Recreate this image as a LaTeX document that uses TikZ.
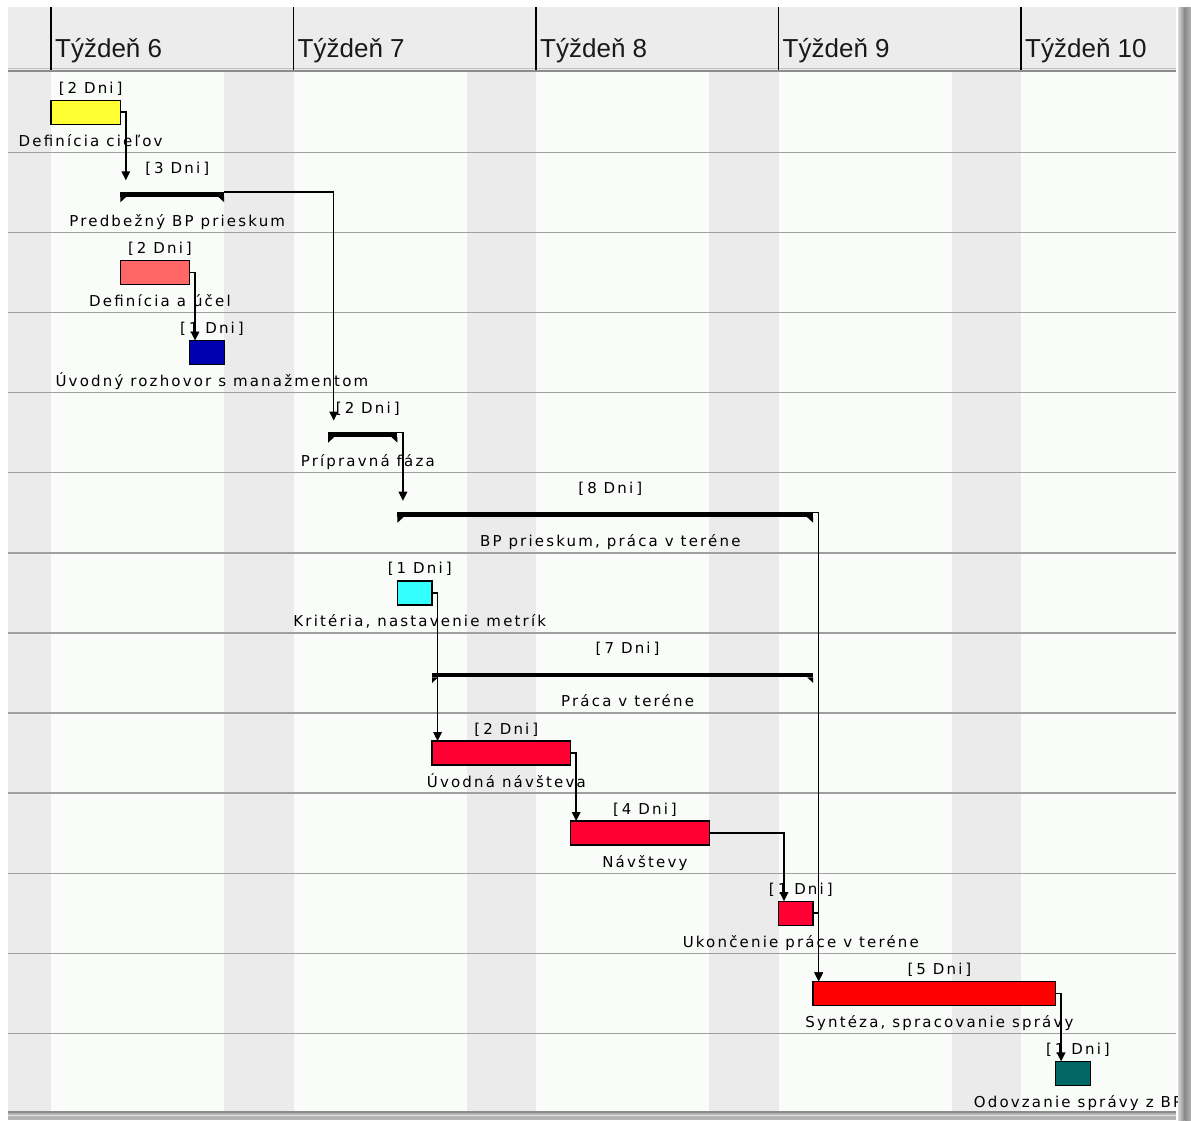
\documentclass[tikz,border=0pt]{standalone}
\usepackage{fontspec}
\usetikzlibrary{arrows.meta,calc}
\newfontfamily\hdrfont{Liberation Sans}
\newfontfamily\lblfont[LetterSpace=14.5]{DejaVu Sans}
\definecolor{hdrgray}{HTML}{ECECEC}
\definecolor{wkend}{HTML}{EBEBEB}
\definecolor{wkday}{HTML}{FAFCFA}
\definecolor{rowline}{HTML}{A0A0A0}
\definecolor{cyel}{HTML}{FFFF33}
\definecolor{csal}{HTML}{FF6666}
\definecolor{cblue}{HTML}{0000B0}
\definecolor{ccyan}{HTML}{33FFFF}
\definecolor{ccrim}{HTML}{FF0033}
\definecolor{cred}{HTML}{FF0000}
\definecolor{cteal}{HTML}{006666}
\definecolor{shlight}{HTML}{D8D8D8}
\definecolor{shdark}{HTML}{8A8A8A}
\definecolor{shmid}{HTML}{B4B4B4}
\newcommand\mytask[7]{%
  \pgfmathsetmacro\mxa{51+34.643*#3}%
  \pgfmathsetmacro\mbw{34.643*(#4-#3)}%
  \pgfmathsetmacro\mrt{72.2+80.1*(#2-1)}%
  \pgfmathsetmacro\mxc{\mxa+\mbw/2+5}%
  \node[durlbl] (#1d) at (\mxc,\mrt+21) {[\kern3pt#6 Dni\kern3pt]};
  \node[durlbl] (#1n) at (\mxc,\mrt+74) {#7};
  \node[taskbar,fill=#5,minimum width=\mbw pt] (#1) at (\mxa,\mrt+28) {};
  \coordinate (#1in) at (\mxa+5.5,\mrt+28);
}
\newcommand\mysum[6]{%
  \pgfmathsetmacro\mxa{51+34.643*#3}%
  \pgfmathsetmacro\mbw{34.643*(#4-#3)}%
  \pgfmathsetmacro\mrt{72.2+80.1*(#2-1)}%
  \pgfmathsetmacro\mxc{\mxa+\mbw/2+5}%
  \node[durlbl] (#1d) at (\mxc,\mrt+21) {[\kern3pt#5 Dni\kern3pt]};
  \node[durlbl] (#1n) at (\mxc,\mrt+74) {#6};
  \node[sumbar,minimum width=\mbw pt] (#1) at (\mxa,\mrt+39.7) {};
  \fill (#1.south west) -- ++(0,5.5) -- ++(6,-5.5) -- cycle;
  \fill (#1.south east) -- ++(0,5.5) -- ++(-6,-5.5) -- cycle;
  \coordinate (#1in) at (\mxa+5.5,\mrt+28);
}
\begin{document}
\begin{tikzpicture}[x=1pt,y=-1pt,
  taskbar/.style={draw=black,line width=1.4pt,inner sep=0pt,outer sep=0pt,minimum height=24pt,anchor=north west},
  sumbar/.style={fill=black,inner sep=0pt,outer sep=0pt,minimum height=4.8pt,anchor=north west},
  durlbl/.style={anchor=base,inner sep=0pt,text=black,font=\lblfont\fontsize{15pt}{18pt}\selectfont},
  wklbl/.style={anchor=base west,inner sep=0pt,text=black!90,font=\hdrfont\fontsize{26pt}{30pt}\selectfont},
  conn/.style={draw=black,line width=1.5pt,-{Triangle[width=8.5pt,length=9pt]}},
  link/.style={draw=black,line width=1.5pt}
]
\useasboundingbox (0,0) rectangle (1191,1120);
\fill[white] (0,0) rectangle (1191,1120);
% chart background
\fill[wkday] (8,71) rectangle (1176,1113);
\foreach \a/\b in {8/51, 224.2/293.5, 466.7/536, 709.2/778.5, 951.7/1021}
  \fill[wkend] (\a,71) rectangle (\b,1113);
% header
\fill[hdrgray] (8,7) rectangle (1176,71);
\draw[color=black!25,line width=1.2pt] (8,68.5) -- (1176,68.5);
\draw[color=black!45,line width=1.5pt] (8,71) -- (1176,71);
\foreach \x in {51,293.5,536,778.5,1021}
  \draw[line width=1.5pt] (\x,7) -- (\x,70);
\node[wklbl] (w6) at (55,57) {Týždeň 6};
\node[wklbl] (w7) at (297.5,57) {Týždeň 7};
\node[wklbl] (w8) at (540,57) {Týždeň 8};
\node[wklbl] (w9) at (782.5,57) {Týždeň 9};
\node[wklbl] (w10) at (1025,57) {Týždeň 10};
% row lines
\foreach \k in {1,...,12}
  \draw[rowline,line width=1.4pt] (8,{72.2+80.1*\k}) -- (1176,{72.2+80.1*\k});
% bottom edge
\fill[shmid] (8,1113) rectangle (1176,1120);
\draw[color=shdark,line width=2pt] (8,1112.3) -- (1176,1112.3);
\draw[color=black!10,line width=1.2pt] (8,1115.3) -- (1176,1115.3);
% tasks
\mytask{t1}{1}{0}{2}{cyel}{2}{Definícia cieľov}
\mysum{s2}{2}{2}{5}{3}{Predbežný BP prieskum}
\mytask{t3}{3}{2}{4}{csal}{2}{Definícia a účel}
\mytask{t4}{4}{4}{5}{cblue}{1}{Úvodný rozhovor s manažmentom}
\mysum{s5}{5}{8}{10}{2}{Prípravná fáza}
\mysum{s6}{6}{10}{22}{8}{BP prieskum, práca v teréne}
\mytask{t7}{7}{10}{11}{ccyan}{1}{Kritéria, nastavenie metrík}
\mysum{s8}{8}{11}{22}{7}{Práca v teréne}
\mytask{t9}{9}{11}{15}{ccrim}{2}{Úvodná návšteva}
\mytask{t10}{10}{15}{19}{ccrim}{4}{Návštevy}
\mytask{t11}{11}{21}{22}{ccrim}{1}{Ukončenie práce v teréne}
\mytask{t12}{12}{22}{29}{cred}{5}{Syntéza, spracovanie správy}
\mytask{t13}{13}{29}{30}{cteal}{1}{Odovzanie správy z BP}
% connectors
\draw[conn] (t1.east) -| (s2in);
\draw[conn] (s2.north east) -| (s5in);
\draw[conn] (t3.east) -| (t4in);
\draw[conn] (s5.north east) -| (s6in);
\draw[conn] (t7.east) -| (t9in);
\draw[conn] (t9.east) -| (t10in);
\draw[conn] (t10.east) -| (t11in);
\draw[conn] (s6.north east) -| (t12in);
\draw[conn] (t11.east) -| (t12in);
\draw[conn] (t12.east) -| (t13in);
% right shadow
\shade[left color=shlight,right color=shdark] (1178,7) rectangle (1184.5,1120);
\shade[left color=shdark,right color=shmid] (1184.5,7) rectangle (1191,1120);
\end{tikzpicture}
\end{document}
